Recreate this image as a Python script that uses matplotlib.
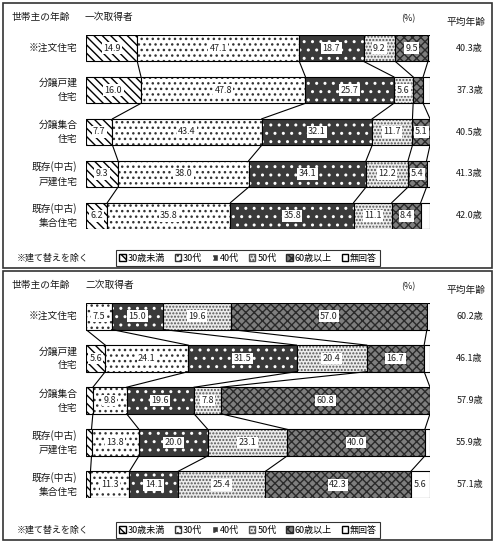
import numpy as np
import matplotlib
matplotlib.use("Agg")
import matplotlib.pyplot as plt
from matplotlib.patches import Rectangle, Patch

plt.rcParams['font.family'] = ['Noto Sans CJK JP', 'DejaVu Sans']
plt.rcParams['hatch.linewidth'] = 1.0

categories = ['※注文住宅', '分譲戸建\n住宅', '分譲集合\n住宅', '既存(中古)\n戸建住宅', '既存(中古)\n集合住宅']
age_groups = ['30歳未満', '30代', '40代', '50代', '60歳以上', '無回答']

# 一次取得者
first_u30 = [14.9, 16.0, 7.7, 9.3, 6.2]
first_30s = [47.1, 47.8, 43.4, 38.0, 35.8]
first_40s = [18.7, 25.7, 32.1, 34.1, 35.8]
first_50s = [9.2, 5.6, 11.7, 12.2, 11.1]
first_60p = [9.5, 2.9, 5.1, 5.4, 8.4]
first_na = [0.6, 2.0, 0.0, 1.0, 2.7]
first_avg = [40.3, 37.3, 40.5, 41.3, 42.0]

# 二次取得者
second_u30 = [0.0, 5.6, 2.0, 1.6, 1.3]
second_30s = [7.5, 24.1, 9.8, 13.8, 11.3]
second_40s = [15.0, 31.5, 19.6, 20.0, 14.1]
second_50s = [19.6, 20.4, 7.8, 23.1, 25.4]
second_60p = [57.0, 16.7, 60.8, 40.0, 42.3]
second_na = [0.9, 1.7, 0.0, 1.5, 5.6]
second_avg = [60.2, 46.1, 57.9, 55.9, 57.1]

# face colour, hatch colour, hatch
styles = [
    ('white', 'black', '\\\\\\\\'),
    ('white', '#333333', '...'),
    ('#3a3a3a', 'white', '..'),
    ('#ececec', '#555555', '.....'),
    ('#7e7e7e', '#2a2a2a', 'xxxx'),
    ('white', 'black', ''),
]

W, H = 497, 545
fig = plt.figure(figsize=(W / 100, H / 100), dpi=100)


def fx(px):
    return px / W


def fy(py):
    return 1 - py / H


def panel(series, avgs, sub, box_top, box_bot, bar_top, bar_bot):
    h = 0.63
    ax = fig.add_axes([fx(86), fy(bar_bot), (430 - 86) / W, (bar_bot - bar_top) / H])
    ax.set_xlim(0, 100)
    ax.set_ylim(4 + h / 2, -h / 2)
    ax.axis('off')
    y = np.arange(len(categories))
    left = np.zeros(len(categories))
    bounds = []
    for vals, (fc, hc, hatch) in zip(series, styles):
        vals = np.array(vals)
        ax.barh(y, vals, left=left, height=h, color=fc, edgecolor=hc, hatch=hatch, linewidth=0)
        ax.barh(y, vals, left=left, height=h, fill=False, edgecolor='black', linewidth=0.8)
        for i in range(len(y)):
            if vals[i] >= 5:
                ax.text(left[i] + vals[i] / 2, y[i], f'{vals[i]:.1f}', ha='center', va='center',
                        fontsize=6.5, color='#222222',
                        bbox=dict(boxstyle='square,pad=0.15', fc='white', ec='none'))
        left = left + vals
        bounds.append(left.copy())
    # connector lines between bars
    for b in bounds[:5]:
        for i in range(len(y) - 1):
            ax.plot([b[i], b[i + 1]], [y[i] + h / 2, y[i + 1] - h / 2], color='black', lw=0.8)
    tr = ax.get_yaxis_transform()
    for i, cat in enumerate(categories):
        ax.text(-0.025, y[i], cat, transform=tr, ha='right', va='center', multialignment='right',
                fontsize=7, color='#1a1a1a', linespacing=1.5)
        ax.text(1.115, y[i], f'{avgs[i]:.1f}歳', transform=tr, ha='center', va='center',
                fontsize=6.5, color='#1a1a1a')

    fig.add_artist(Rectangle((fx(3), fy(box_bot)), fx(492) - fx(3), (box_bot - box_top) / H,
                             transform=fig.transFigure, fill=False, ec='#333333', lw=1.2))
    ty = box_top + 14
    fig.text(fx(12), fy(ty), '世帯主の年齢', ha='left', va='center', fontsize=7, color='#1a1a1a')
    fig.text(fx(85), fy(ty), sub, ha='left', va='center', fontsize=7, color='#1a1a1a')
    fig.text(fx(408), fy(ty + 2), '(%)', ha='center', va='center', fontsize=6.5, color='#1a1a1a')
    fig.text(fx(466), fy(ty + 5), '平均年齢', ha='center', va='center', fontsize=7, color='#1a1a1a')
    ly = box_bot - 10
    fig.text(fx(17), fy(ly), '※建て替えを除く', ha='left', va='center', fontsize=6.5, color='#1a1a1a')
    handles = [Patch(facecolor=fc, edgecolor=hc, hatch=hatch) for fc, hc, hatch in styles]
    leg = fig.legend(handles, age_groups, loc='center', bbox_to_anchor=(fx(248), fy(ly)), ncol=6,
                     fontsize=6.5, frameon=True, fancybox=False, edgecolor='black',
                     handlelength=0.7, handleheight=0.7, handletextpad=0.2, columnspacing=1.1,
                     borderpad=0.35)
    leg.get_frame().set_linewidth(0.8)


panel([first_u30, first_30s, first_40s, first_50s, first_60p, first_na], first_avg,
      '一次取得者', 3, 268, 35, 229)
panel([second_u30, second_30s, second_40s, second_50s, second_60p, second_na], second_avg,
      '二次取得者', 271, 540, 303, 498)

fig.savefig('out.png', dpi=100)
